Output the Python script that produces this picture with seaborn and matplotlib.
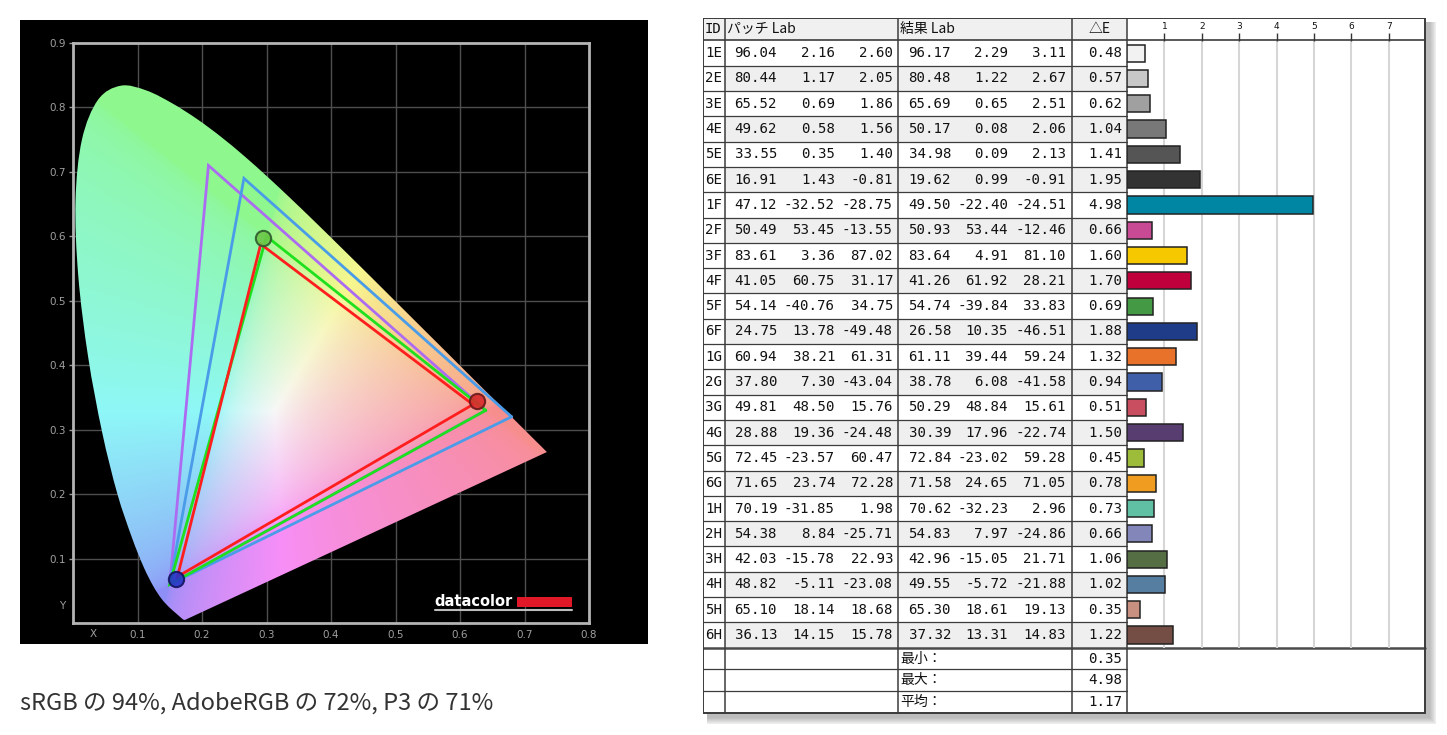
import numpy as np
import pandas as pd
import matplotlib
matplotlib.use("Agg")
import matplotlib.pyplot as plt
import seaborn as sns
from matplotlib.patches import Rectangle, PathPatch
from matplotlib.path import Path

sns.set_theme(style="white")
plt.rcParams['font.family'] = ['Noto Sans CJK JP', 'DejaVu Sans']

# ---------------- data ----------------
# CIE 1931 spectral locus (x, y)
locus_x = [0.1741, 0.1740, 0.1738, 0.1736, 0.1733, 0.1730, 0.1726, 0.1721, 0.1714, 0.1703,
           0.1689, 0.1669, 0.1644, 0.1611, 0.1566, 0.1510, 0.1440, 0.1355, 0.1241, 0.1096,
           0.0913, 0.0687, 0.0454, 0.0235, 0.0082, 0.0039, 0.0139, 0.0389, 0.0743, 0.1142,
           0.1547, 0.1929, 0.2296, 0.2658, 0.3016, 0.3373, 0.3731, 0.4087, 0.4441, 0.4788,
           0.5125, 0.5448, 0.5752, 0.6029, 0.6270, 0.6482, 0.6658, 0.6801, 0.6915, 0.7006,
           0.7079, 0.7140, 0.7190, 0.7230, 0.7260, 0.7283, 0.7300, 0.7311, 0.7320, 0.7334, 0.7347]
locus_y = [0.0050, 0.0050, 0.0049, 0.0049, 0.0048, 0.0048, 0.0048, 0.0048, 0.0051, 0.0058,
           0.0069, 0.0086, 0.0109, 0.0138, 0.0177, 0.0227, 0.0297, 0.0399, 0.0578, 0.0868,
           0.1327, 0.2007, 0.2950, 0.4127, 0.5384, 0.6548, 0.7502, 0.8120, 0.8338, 0.8262,
           0.8059, 0.7816, 0.7543, 0.7243, 0.6923, 0.6589, 0.6245, 0.5896, 0.5547, 0.5202,
           0.4866, 0.4544, 0.4242, 0.3965, 0.3725, 0.3514, 0.3340, 0.3197, 0.3083, 0.2993,
           0.2920, 0.2859, 0.2809, 0.2770, 0.2740, 0.2717, 0.2700, 0.2689, 0.2680, 0.2666, 0.2653]

adobe_x = [0.64, 0.21, 0.15]
adobe_y = [0.33, 0.71, 0.06]
p3_x = [0.68, 0.265, 0.15]
p3_y = [0.32, 0.69, 0.06]
srgb_x = [0.64, 0.30, 0.15]
srgb_y = [0.33, 0.60, 0.06]
meas_x = [0.620, 0.291, 0.162]
meas_y = [0.339, 0.588, 0.072]
dot_x = [0.627, 0.295, 0.160]
dot_y = [0.345, 0.598, 0.069]
dot_colors = ['#d82a2a', '#6cc848', '#2634c8']
dot_edges = ['#6a1a1a', '#2e5a2e', '#141460']

axis_ticks_x = [0.1, 0.2, 0.3, 0.4, 0.5, 0.6, 0.7, 0.8]
axis_ticks_y = [0.1, 0.2, 0.3, 0.4, 0.5, 0.6, 0.7, 0.8, 0.9]

caption = "sRGB の 94%, AdobeRGB の 72%, P3 の 71%"

ids = ['1E', '2E', '3E', '4E', '5E', '6E', '1F', '2F', '3F', '4F', '5F', '6F',
       '1G', '2G', '3G', '4G', '5G', '6G', '1H', '2H', '3H', '4H', '5H', '6H']
patch_L = [96.04, 80.44, 65.52, 49.62, 33.55, 16.91, 47.12, 50.49, 83.61, 41.05, 54.14, 24.75,
           60.94, 37.80, 49.81, 28.88, 72.45, 71.65, 70.19, 54.38, 42.03, 48.82, 65.10, 36.13]
patch_a = [2.16, 1.17, 0.69, 0.58, 0.35, 1.43, -32.52, 53.45, 3.36, 60.75, -40.76, 13.78,
           38.21, 7.30, 48.50, 19.36, -23.57, 23.74, -31.85, 8.84, -15.78, -5.11, 18.14, 14.15]
patch_b = [2.60, 2.05, 1.86, 1.56, 1.40, -0.81, -28.75, -13.55, 87.02, 31.17, 34.75, -49.48,
           61.31, -43.04, 15.76, -24.48, 60.47, 72.28, 1.98, -25.71, 22.93, -23.08, 18.68, 15.78]
res_L = [96.17, 80.48, 65.69, 50.17, 34.98, 19.62, 49.50, 50.93, 83.64, 41.26, 54.74, 26.58,
         61.11, 38.78, 50.29, 30.39, 72.84, 71.58, 70.62, 54.83, 42.96, 49.55, 65.30, 37.32]
res_a = [2.29, 1.22, 0.65, 0.08, 0.09, 0.99, -22.40, 53.44, 4.91, 61.92, -39.84, 10.35,
         39.44, 6.08, 48.84, 17.96, -23.02, 24.65, -32.23, 7.97, -15.05, -5.72, 18.61, 13.31]
res_b = [3.11, 2.67, 2.51, 2.06, 2.13, -0.91, -24.51, -12.46, 81.10, 28.21, 33.83, -46.51,
         59.24, -41.58, 15.61, -22.74, 59.28, 71.05, 2.96, -24.86, 21.71, -21.88, 19.13, 14.83]
delta_e = [0.48, 0.57, 0.62, 1.04, 1.41, 1.95, 4.98, 0.66, 1.60, 1.70, 0.69, 1.88,
           1.32, 0.94, 0.51, 1.50, 0.45, 0.78, 0.73, 0.66, 1.06, 1.02, 0.35, 1.22]
bar_colors = ['#f2f2f2', '#c8c8c8', '#a0a0a0', '#787878', '#555555', '#333333',
              '#0085a3', '#c84a94', '#f5c800', '#c0003c', '#449944', '#1e3c88',
              '#e8722a', '#3f5fa8', '#c84e60', '#583e70', '#9cbc3a', '#f09c20',
              '#60c0a4', '#8286b8', '#566e44', '#567ea0', '#c89080', '#744e44']
summary_labels = ['最小：', '最大：', '平均：']
summary_values = [0.35, 4.98, 1.17]
bar_ticks = [1, 2, 3, 4, 5, 6, 7]

# ---------------- figure ----------------
W, H = 1447, 735
fig = plt.figure(figsize=(W / 100, H / 100), dpi=100)
fig.patch.set_facecolor('white')


def px_axes(x0, y0, x1, y1, **kw):
    return fig.add_axes([x0 / W, 1 - y1 / H, (x1 - x0) / W, (y1 - y0) / H], **kw)


# black panel
fig.patches.append(Rectangle((20 / W, 1 - 644 / H), 628 / W, 624 / H,
                             transform=fig.transFigure, facecolor='black',
                             edgecolor='none', zorder=-5))

ax = px_axes(73, 43, 589, 623)
ax.set_facecolor('black')
ax.set_xlim(0, 0.8)
ax.set_ylim(0, 0.9)
for s in ax.spines.values():
    s.set_color('#b4b4b4')
    s.set_linewidth(2.0)
for v in axis_ticks_x[:-1]:
    ax.axvline(v, color='#4e4e4e', lw=1.0, zorder=1)
for v in axis_ticks_y[:-1]:
    ax.axhline(v, color='#4e4e4e', lw=1.0, zorder=1)
ax.set_xticks(axis_ticks_x)
ax.set_xticklabels([f"{v:.1f}" for v in axis_ticks_x])
ax.set_yticks(axis_ticks_y)
ax.set_yticklabels([f"{v:.1f}" for v in axis_ticks_y])
ax.tick_params(axis='both', colors='#9a9a9a', labelsize=7.5, labelcolor='#a0a0a0')
ax.tick_params(axis='x', length=0, pad=5)
ax.tick_params(axis='y', length=3, width=1, pad=2, left=True)
for lab in ax.get_xticklabels() + ax.get_yticklabels():
    lab.set_family('DejaVu Sans')
ax.text(0.031, -0.017, 'X', color='#a0a0a0', fontsize=7.5, ha='center', va='center',
        family='DejaVu Sans')
ax.text(-0.017, 0.027, 'Y', color='#a0a0a0', fontsize=7.5, ha='center', va='center',
        family='DejaVu Sans')

# chromaticity fill
gx = np.linspace(0, 0.8, 480)
gy = np.linspace(0, 0.9, 540)
GX, GY = np.meshgrid(gx, gy)
Yd = np.maximum(GY, 1e-3)
XYZ = np.stack([GX / Yd, np.ones_like(GX), (1 - GX - GY) / Yd], axis=-1)
M = np.array([[3.2406, -1.5372, -0.4986],
              [-0.9689, 1.8758, 0.0415],
              [0.0557, -0.2040, 1.0570]])
rgb = XYZ @ M.T
rgb = np.clip(rgb, 0, None)
rgb = rgb / np.maximum(rgb.max(axis=-1, keepdims=True), 1e-6)
rgb = rgb ** (1 / 2.2)
rgb = 0.56 + 0.41 * rgb
im = ax.imshow(rgb, extent=(0, 0.8, 0, 0.9), origin='lower', aspect='auto',
               interpolation='bilinear', zorder=2)

# smooth outline through the locus points (Catmull-Rom drawn as cubic Bezier)
pts = np.column_stack([locus_x, locus_y])
verts = [pts[0]]
codes = [Path.MOVETO]
npt = len(pts)
for i in range(npt - 1):
    p0 = pts[max(i - 1, 0)]
    p1 = pts[i]
    p2 = pts[i + 1]
    p3 = pts[min(i + 2, npt - 1)]
    verts += [p1 + (p2 - p0) / 6, p2 - (p3 - p1) / 6, p2]
    codes += [Path.CURVE4] * 3
verts += [pts[0], pts[0]]
codes += [Path.LINETO, Path.CLOSEPOLY]
locus_patch = PathPatch(Path(verts, codes), facecolor='none', edgecolor='none',
                        transform=ax.transData)
ax.add_patch(locus_patch)
im.set_clip_path(locus_patch)

# gamut triangles
for gxs, gys, col in [(adobe_x, adobe_y, '#ac6cf2'), (p3_x, p3_y, '#4a9ce8'),
                      (srgb_x, srgb_y, '#1ee01e'), (meas_x, meas_y, '#ff1e1e')]:
    ax.plot(gxs + gxs[:1], gys + gys[:1], color=col, lw=2.0, zorder=4,
            solid_joinstyle='miter')
for xx, yy, fc, ec in zip(dot_x, dot_y, dot_colors, dot_edges):
    ax.plot([xx], [yy], marker='o', ms=11, mfc=fc, mec=ec, mew=1.5, alpha=0.9, zorder=5)

# datacolor logo
ax.text(0.561, 0.034, 'datacolor', color='white', fontsize=10.5, fontweight='bold',
        ha='left', va='center', family='DejaVu Sans', zorder=6)
ax.add_patch(Rectangle((0.688, 0.025), 0.086, 0.0155, facecolor='#e01828',
                       edgecolor='none', zorder=6))
ax.plot([0.561, 0.774], [0.020, 0.020], color='#bdbdbd', lw=1.5, zorder=6)

# caption
fig.text(20 / W, 1 - 703 / H, caption, fontsize=17, color='#333333',
         ha='left', va='center')

# ---------------- table ----------------
tx0, tx1, ty0, ty1 = 703, 1425, 18, 713
ta = px_axes(703, 18, 1436, 724)
ta.set_xlim(703, 1436)
ta.set_ylim(724, 18)
ta.axis('off')
ta.patch.set_alpha(0)

# shadow
for k in range(1, 9):
    ta.add_patch(Rectangle((tx0 + 4, ty0 + 4), (tx1 - tx0) + k, (ty1 - ty0) + k,
                           facecolor='#000000', alpha=0.035, edgecolor='none', zorder=0))
ta.add_patch(Rectangle((tx0, ty0), tx1 - tx0, ty1 - ty0, facecolor='white',
                       edgecolor='none', zorder=1))

col_x = [703, 725, 898, 1072, 1127, 1425]
hdr_bottom = 40.5
row_h = 25.3
n = len(ids)
data_bottom = hdr_bottom + n * row_h
sum_h = (ty1 - data_bottom) / 3

# header background
ta.add_patch(Rectangle((tx0, ty0), col_x[4] - tx0, hdr_bottom - ty0,
                       facecolor='#f0f0f0', edgecolor='none', zorder=1.5))
# alternating row shading
for i in range(n):
    if i % 2 == 1:
        ta.add_patch(Rectangle((col_x[1], hdr_bottom + i * row_h), col_x[4] - col_x[1], row_h,
                               facecolor='#efefef', edgecolor='none', zorder=1.5))

lc = '#3c3c3c'
# horizontal lines
ta.plot([tx0, tx1], [hdr_bottom, hdr_bottom], color=lc, lw=1.2, zorder=3)
for i in range(1, n):
    yy = hdr_bottom + i * row_h
    ta.plot([tx0, col_x[4]], [yy, yy], color=lc, lw=0.9, zorder=3)
ta.plot([tx0, tx1], [data_bottom, data_bottom], color='#4a4a4a', lw=1.8, zorder=3)
for j in range(1, 3):
    yy = data_bottom + j * sum_h
    ta.plot([tx0, col_x[4]], [yy, yy], color=lc, lw=0.9, zorder=3)
# vertical lines
for xx in col_x[1:5]:
    ta.plot([xx, xx], [ty0, ty1], color=lc, lw=1.1, zorder=3)
ta.add_patch(Rectangle((tx0, ty0), tx1 - tx0, ty1 - ty0, facecolor='none',
                       edgecolor='#3a3a3a', lw=1.4, zorder=4))

# header texts
hy = (ty0 + hdr_bottom) / 2
ta.text(705, hy, 'ID', fontsize=10, ha='left', va='center', family='DejaVu Sans Mono',
        color='#111111', zorder=5)
ta.text(727, hy, 'パッチ Lab', fontsize=10, ha='left', va='center', color='#111111', zorder=5)
ta.text(900, hy, '結果 Lab', fontsize=10, ha='left', va='center', color='#111111', zorder=5)
ta.text((col_x[3] + col_x[4]) / 2, hy, '△E', fontsize=10, ha='center', va='center',
        color='#111111', zorder=5)

num_cols = [(patch_L, 777), (patch_a, 835), (patch_b, 893),
            (res_L, 951), (res_a, 1008), (res_b, 1066), (delta_e, 1122)]
mono = dict(fontsize=10.2, va='center', family='DejaVu Sans Mono', color='#111111', zorder=5)
for i in range(n):
    yc = hdr_bottom + (i + 0.5) * row_h
    ta.text(705, yc, ids[i], ha='left', **mono)
    for vals, xr in num_cols:
        ta.text(xr, yc, f"{vals[i]:.2f}", ha='right', **mono)
for j in range(3):
    yc = data_bottom + (j + 0.5) * sum_h
    ta.text(900, yc, summary_labels[j], fontsize=10, ha='left', va='center',
            color='#111111', zorder=5)
    ta.text(1122, yc, f"{summary_values[j]:.2f}", ha='right', **mono)

# ---------------- bars (seaborn) ----------------
ba = px_axes(col_x[4], hdr_bottom, col_x[5], data_bottom)
ba.patch.set_alpha(0)
df = pd.DataFrame({'id': ids, 'de': delta_e})
sns.barplot(data=df, x='de', y='id', hue='id', palette=bar_colors, legend=False,
            orient='h', width=0.68, edgecolor='#222222', linewidth=1.1, saturation=1,
            ax=ba)
ba.set_xlim(0, 7.97)
ba.set_ylim(n - 0.5, -0.5)
ba.set_xlabel('')
ba.set_ylabel('')
ba.set_yticks([])
ba.set_xticks(bar_ticks)
ba.set_xticklabels([str(t) for t in bar_ticks])
ba.xaxis.tick_top()
ba.tick_params(axis='x', top=True, bottom=False, labeltop=True, labelbottom=False,
               length=6, width=1, color='#333333', direction='out', pad=0.5,
               labelsize=6.5, labelcolor='#111111')
for lab in ba.get_xticklabels():
    lab.set_family('DejaVu Sans')
ba.grid(axis='x', color='#d6d6d6', lw=1.5)
ba.grid(axis='y', visible=False)
ba.set_axisbelow(True)
for s in ba.spines.values():
    s.set_visible(False)

fig.savefig('out.png', dpi=100)
